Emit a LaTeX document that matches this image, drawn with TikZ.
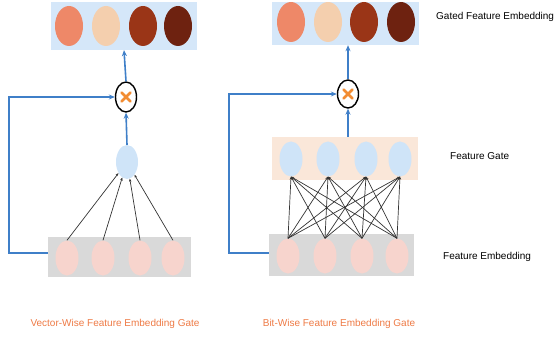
\documentclass[tikz,border=0pt]{standalone}
\usepackage{fontspec}
\setmainfont{Liberation Sans}
\usetikzlibrary{shapes.geometric,arrows.meta}
\definecolor{boxblue}{HTML}{D5E7F9}
\definecolor{boxpeach}{HTML}{FAE7D9}
\definecolor{boxgray}{HTML}{D9D9D9}
\definecolor{gateblue}{HTML}{CFE4F8}
\definecolor{embpink}{HTML}{F7D4CD}
\definecolor{outA}{HTML}{EE8868}
\definecolor{outB}{HTML}{F4CFAE}
\definecolor{outC}{HTML}{9A3517}
\definecolor{outD}{HTML}{6E2210}
\definecolor{linkblue}{HTML}{3F7FC8}
\definecolor{crossorange}{HTML}{F28C32}
\definecolor{captionorange}{HTML}{EE7A45}

\begin{document}
\begin{tikzpicture}[x=1pt,y=-1pt,font=\fontsize{10}{12}\selectfont]
    \tikzstyle{layer}=[rectangle,inner sep=0pt]
    \tikzstyle{unit}=[ellipse,inner sep=0pt,minimum width=23pt,minimum height=35pt]
    \tikzstyle{outunit}=[ellipse,inner sep=0pt,minimum width=28pt,minimum height=40pt]
    \tikzstyle{mult}=[ellipse,draw=black,line width=1.4pt,fill=white,inner sep=0pt,minimum width=21pt,minimum height=30pt]
    \tikzstyle{cross}=[crossorange,line width=2.6pt,line cap=round]
    \tikzstyle{blueline}=[linkblue,line width=1.6pt,-{Stealth[length=6pt,width=5pt]}]
    \tikzstyle{wire}=[black!80,line width=0.7pt,-{Stealth[length=3pt,width=2.5pt]}]
    \useasboundingbox (0,0) rectangle (556,339);

    % vector-wise gate (left)
    \node[layer,fill=boxblue,minimum width=146pt,minimum height=48pt] (GL) at (124,26) {};
    \foreach \num/\x/\c in {1/69/outA, 2/106/outB, 3/143/outC, 4/178/outD}
        \node[outunit,fill=\c] (OL-\num) at (\x,26) {};
    \node[mult] (ML) at (126,97) {};
    \node[unit,fill=gateblue,minimum width=22pt,minimum height=34pt] (SL) at (127,162) {};
    \node[layer,fill=boxgray,minimum width=143pt,minimum height=40pt] (EL) at (119.5,257) {};
    \foreach \num/\x in {1/67, 2/103, 3/140, 4/173}
        \node[unit,fill=embpink] (VL-\num) at (\x,258) {};

    \foreach \num in {1,2,3,4}
        \draw[wire] (VL-\num.north) -- (SL);
    \draw[blueline] (SL.north) -- (ML.south);
    \draw[blueline] (ML.north) -- (GL.south);
    \coordinate (turnL) at (9,180);
    \draw[blueline] ([yshift=4pt]EL.west) -| (turnL) |- (ML.west);
    \draw[cross] ([shift={(-4.5,-4.5)}]ML.center) -- ([shift={(4.5,4.5)}]ML.center);
    \draw[cross] ([shift={(-4.5,4.5)}]ML.center) -- ([shift={(4.5,-4.5)}]ML.center);

    % bit-wise gate (right)
    \node[layer,fill=boxblue,minimum width=147pt,minimum height=43pt] (GR) at (345.5,23.5) {};
    \foreach \num/\x/\c in {1/291/outA, 2/328/outB, 3/364/outC, 4/401/outD}
        \node[outunit,fill=\c] (OR-\num) at (\x,22) {};
    \node[mult,minimum height=28pt] (MR) at (348,94) {};
    \node[layer,fill=boxpeach,minimum width=146pt,minimum height=43pt] (FR) at (345,158.5) {};
    \foreach \num/\x in {1/291, 2/328, 3/366, 4/400}
        \node[unit,fill=gateblue] (SR-\num) at (\x,159) {};
    \node[layer,fill=boxgray,minimum width=145pt,minimum height=42pt] (ER) at (341.5,255) {};
    \foreach \num/\x in {1/288, 2/325, 3/362, 4/397}
        \node[unit,fill=embpink] (VR-\num) at (\x,256) {};

    \foreach \from in {1,2,3,4}
        \foreach \to in {1,2,3,4}
            \draw[wire] (VR-\from.north) -- (SR-\to.south);
    \draw[blueline] (FR.north -| MR) -- (MR.south);
    \draw[blueline] (MR.north) -- (MR |- GR.south);
    \coordinate (turnR) at (229,180);
    \draw[blueline] ([yshift=2pt]ER.west) -| (turnR) |- (MR.west);
    \draw[cross] ([shift={(-4.5,-4.5)}]MR.center) -- ([shift={(4.5,4.5)}]MR.center);
    \draw[cross] ([shift={(-4.5,4.5)}]MR.center) -- ([shift={(4.5,-4.5)}]MR.center);

    % labels
    \node[anchor=west,inner sep=0pt] (tGated) at (436,17) {Gated Feature Embedding};
    \node[anchor=west,inner sep=0pt] (tGate) at (450,156) {Feature Gate};
    \node[anchor=west,inner sep=0pt] (tEmb) at (443,257) {Feature Embedding};
    \node[text=captionorange,inner sep=0pt] (capL) at (115,324) {Vector-Wise Feature Embedding Gate};
    \node[text=captionorange,inner sep=0pt] (capR) at (339,324) {Bit-Wise Feature Embedding Gate};
\end{tikzpicture}
\end{document}
